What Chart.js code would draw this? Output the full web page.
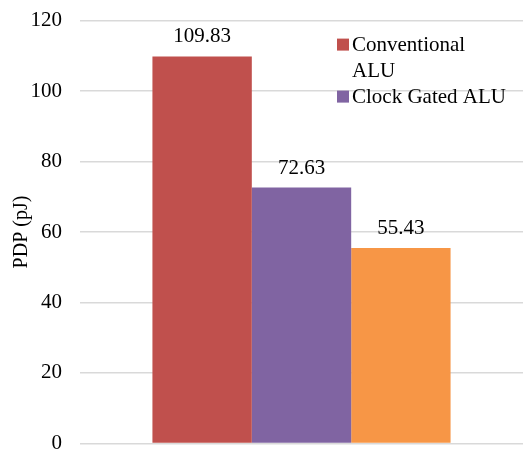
<!DOCTYPE html>
<html>
<head>
<meta charset="utf-8">
<script src="https://cdn.jsdelivr.net/npm/chart.js@4"></script>
<style>
  html, body { margin: 0; padding: 0; background: #fff; overflow: hidden; height: 450px; }
  #wrap { position: absolute; left: 0; top: -10px; width: 523px; height: 484px; }
</style>
</head>
<body>
<div id="wrap"><canvas id="pdpChart"></canvas></div>
<script>
// chart data
const categories = [""];
const seriesNames = ["Conventional ALU", "Clock Gated ALU", ""];
const legendLines = [["Conventional", "ALU"], ["Clock Gated ALU"]];
const pdpValues = [109.83, 72.63, 55.43];
const seriesColors = ["#C0504D", "#8064A2", "#F79646"];
const yTickMax = 120;
const yTickStep = 20;
const yTitle = "PDP (pJ)";

const FONT = "'Liberation Serif', 'Times New Roman', serif";

// value labels above each bar
const valueLabels = {
    id: "valueLabels",
    afterDatasetsDraw(chart) {
        const ctx = chart.ctx;
        ctx.save();
        ctx.font = "21px " + FONT;
        ctx.fillStyle = "#000";
        ctx.textAlign = "center";
        ctx.textBaseline = "alphabetic";
        chart.data.datasets.forEach((ds, i) => {
            const bar = chart.getDatasetMeta(i).data[0];
            ctx.fillText(ds.data[0].toFixed(2), bar.x, bar.y - 14);
        });
        ctx.restore();
    }
};

// legend drawn by hand so the first label can wrap
const wrapLegend = {
    id: "wrapLegend",
    afterDraw(chart) {
        const ctx = chart.ctx;
        ctx.save();
        ctx.font = "21px " + FONT;
        ctx.textBaseline = "alphabetic";
        let y = chart.chartArea.top + 30;
        legendLines.forEach((lines, i) => {
            ctx.fillStyle = seriesColors[i];
            ctx.fillRect(337, y - 12, 12, 12);
            ctx.fillStyle = "#000";
            lines.forEach(line => {
                ctx.fillText(line, 352, y);
                y += 26;
            });
        });
        ctx.restore();
    }
};

new Chart(document.getElementById("pdpChart"), {
    type: "bar",
    data: {
        labels: categories,
        datasets: pdpValues.map((v, i) => ({
            label: seriesNames[i],
            data: [v],
            backgroundColor: seriesColors[i],
            barPercentage: 1,
            categoryPercentage: 0.673
        }))
    },
    options: {
        responsive: true,
        maintainAspectRatio: false,
        animation: false,
        layout: { padding: { top: 6, right: 0, bottom: 0, left: 0 } },
        plugins: {
            legend: { display: false },
            tooltip: { enabled: false }
        },
        scales: {
            x: { display: false },
            y: {
                min: 0,
                max: yTickMax,
                ticks: {
                    stepSize: yTickStep,
                    color: "#000",
                    padding: 18,
                    font: { family: FONT, size: 21 }
                },
                grid: { color: "#D9D9D9", lineWidth: 1.5, drawTicks: false },
                border: { display: false },
                title: {
                    display: true,
                    text: yTitle,
                    color: "#000",
                    padding: { top: 10, bottom: 0 },
                    font: { family: FONT, size: 20 }
                },
                afterFit(scale) { scale.width = 80; }
            }
        }
    },
    plugins: [valueLabels, wrapLegend]
});
</script>
</body>
</html>
